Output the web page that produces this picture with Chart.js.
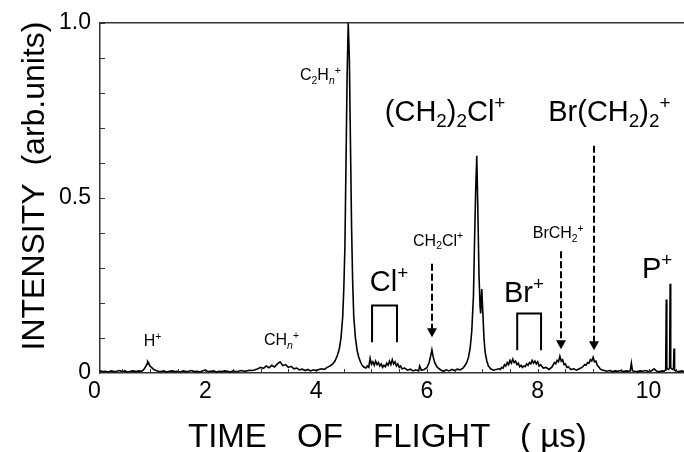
<!DOCTYPE html>
<html>
<head>
<meta charset="utf-8">
<script src="https://cdn.jsdelivr.net/npm/chart.js@4.4.1/dist/chart.umd.min.js"></script>
<style>
html, body { margin: 0; padding: 0; background: #fff; }
#tof { display: block; }
</style>
</head>
<body>
<canvas id="tof" width="684" height="452"></canvas>
<script>
// time of flight (µs) and intensity
const tofUs = [
    0.10, 0.15, 0.20, 0.25, 0.30, 0.35, 0.40, 0.45, 0.50, 0.55, 0.60, 0.65, 0.70, 0.75, 0.80, 0.85,
    0.88, 0.90, 0.93, 0.95, 0.96, 0.98, 1.00, 1.03, 1.06, 1.10, 1.15,
    1.20, 1.25, 1.30, 1.35, 1.40, 1.45, 1.50, 1.55, 1.60, 1.65,
    1.70, 1.75, 1.80, 1.85, 1.90, 1.95, 2.00, 2.05, 2.10, 2.15,
    2.20, 2.25, 2.30, 2.35, 2.40, 2.45, 2.50, 2.55, 2.60, 2.65,
    2.70, 2.75, 2.80, 2.85,
    2.90, 2.95, 3.00, 3.05, 3.10, 3.15, 3.20, 3.25, 3.30, 3.35,
    3.40, 3.45, 3.50, 3.55, 3.60, 3.65, 3.70, 3.75, 3.80, 3.85,
    3.90, 3.95, 4.00, 4.05,
    4.10, 4.15, 4.20, 4.25, 4.30, 4.34, 4.38, 4.42, 4.45, 4.48,
    4.50, 4.52, 4.54, 4.56, 4.58, 4.60, 4.62, 4.64, 4.66, 4.68,
    4.71, 4.74, 4.77, 4.80, 4.83, 4.86,
    4.900, 4.925, 4.950, 4.975, 5.000, 5.025, 5.050, 5.075, 5.100, 5.125,
    5.150, 5.175, 5.200, 5.225, 5.250, 5.275, 5.300, 5.325, 5.350, 5.375,
    5.400, 5.425, 5.450, 5.475, 5.500, 5.525, 5.550, 5.600, 5.650, 5.700,
    5.750, 5.800, 5.850, 5.870, 5.900, 5.950,
    6.00, 6.04, 6.07, 6.09, 6.11, 6.14, 6.18, 6.22, 6.26,
    6.30, 6.35, 6.40, 6.45, 6.50, 6.55, 6.60, 6.65,
    6.68, 6.72, 6.75, 6.78, 6.81, 6.84, 6.86, 6.88, 6.90, 6.92,
    6.94, 6.96, 6.97, 6.99, 7.01, 7.03, 7.05, 7.08, 7.11, 7.15,
    7.20,
    7.250, 7.300, 7.325, 7.350, 7.375, 7.400, 7.425, 7.450, 7.475, 7.500,
    7.525, 7.550, 7.575, 7.600, 7.625, 7.650, 7.675, 7.700, 7.725, 7.750,
    7.775, 7.800, 7.825, 7.850, 7.875, 7.900, 7.925, 7.950, 7.975, 8.000,
    8.025, 8.050, 8.100, 8.150, 8.200,
    8.250, 8.275, 8.300, 8.325, 8.350, 8.375, 8.400, 8.425, 8.450, 8.475,
    8.500, 8.525, 8.550, 8.600, 8.650,
    8.700, 8.750, 8.800,
    8.825, 8.850, 8.875, 8.900, 8.925, 8.950, 8.975, 9.000, 9.025, 9.050,
    9.075, 9.100, 9.125, 9.150, 9.200,
    9.25, 9.30, 9.35, 9.40, 9.45, 9.50, 9.55, 9.60, 9.65, 9.67,
    9.69, 9.71, 9.75, 9.80, 9.85, 9.90, 9.95, 10.00, 10.05, 10.10,
    10.15, 10.20, 10.25,
    10.28, 10.30, 10.31, 10.32, 10.33, 10.36, 10.38, 10.39, 10.40, 10.43,
    10.45, 10.46, 10.47, 10.50,
    10.55, 10.60, 10.64
];

const intensity = [
    .006, .004, .005, .003, .006, .004, .005, .007, .004, .006, .003, .005, .006, .004, .006, .005,
    .008, .012, .020, .026, .033, .028, .020, .016, .011, .008, .005,
    .004, .006, .003, .005, .006, .004, .005, .003, .006, .004,
    .005, .007, .004, .005, .003, .006, .009, .004, .005, .006,
    .003, .005, .004, .006, .005, .003, .006, .004, .005, .007,
    .005, .006, .008, .007,
    .009, .012, .016, .013, .020, .015, .022, .017, .026, .032,
    .021, .024, .016, .019, .012, .014, .009, .011, .007, .010,
    .006, .009, .007, .010,
    .012, .010, .016, .020, .026, .034, .048, .070, .100, .160,
    .240, .360, .600, .850, 1.00, .900, .660, .420, .260, .160,
    .100, .065, .045, .032, .022, .017,
    .014, .020, .016, .042, .025, .032, .022, .034, .024, .030,
    .020, .026, .016, .022, .018, .028, .022, .034, .024, .038,
    .026, .032, .020, .026, .016, .020, .012, .014, .008, .011,
    .006, .009, .006, .020, .008, .010,
    .015, .030, .050, .066, .048, .030, .018, .012, .008,
    .005, .009, .006, .010, .007, .011, .009, .014,
    .020, .030, .045, .070, .120, .220, .380, .520, .620, .460,
    .280, .190, .170, .240, .170, .100, .060, .035, .020, .012,
    .008,
    .010, .012, .010, .016, .014, .024, .020, .030, .024, .036,
    .028, .040, .030, .034, .024, .028, .018, .022, .016, .020,
    .018, .026, .022, .030, .026, .036, .028, .034, .026, .032,
    .020, .024, .014, .016, .010,
    .016, .022, .030, .026, .036, .032, .048, .034, .038, .024,
    .026, .016, .018, .010, .012,
    .008, .012, .016,
    .020, .024, .022, .030, .028, .038, .034, .045, .032, .034,
    .022, .018, .012, .009, .007,
    .005, .007, .004, .006, .005, .007, .004, .006, .005, .006,
    .028, .006, .005, .004, .006, .005, .007, .004, .006, .012,
    .005, .004, .006,
    .005, .008, .012, .210, .012, .010, .015, .255, .015, .010,
    .012, .070, .008, .005,
    .004, .006, .004
];

const xTicks = [0, 2, 4, 6, 8, 10];
const yTicks = [0, 0.5, 1.0];

const FONT = "'Liberation Sans', Arial, Helvetica, sans-serif";

// text with sub/superscripts: parts are [text, kind]
function drawRich(ctx, x, y, size, parts) {
    ctx.textAlign = "left";
    ctx.textBaseline = "alphabetic";
    for (const [txt, kind] of parts) {
        const small = kind !== "";
        const italic = kind === "isub";
        const fs = small ? size * 0.65 : size;
        ctx.font = (italic ? "italic " : "") + fs + "px " + FONT;
        let dy = 0;
        if (kind === "sub" || kind === "isub") dy = size * 0.22;
        if (kind === "sup") dy = -size * 0.4;
        ctx.fillText(txt, x, y + dy);
        x += ctx.measureText(txt).width;
    }
}

const decorPlugin = {
    id: "decor",
    afterDraw(chart) {
        const ctx = chart.ctx;
        const { left, right, top, bottom } = chart.chartArea;
        const xs = chart.scales.x, ys = chart.scales.y;
        const px = v => xs.getPixelForValue(v);
        const py = v => ys.getPixelForValue(v);

        ctx.save();
        ctx.strokeStyle = "#333";
        ctx.lineWidth = 1.5;
        // top frame line
        ctx.beginPath();
        ctx.moveTo(left, top);
        ctx.lineTo(right, top);
        ctx.stroke();

        // inward ticks
        ctx.lineWidth = 1;
        ctx.beginPath();
        for (let v = 0.1; v < 1.001; v += 0.1) {
            const y = Math.round(py(v)) + 0.5;
            ctx.moveTo(left, y);
            ctx.lineTo(left + 5, y);
        }
        for (let v = 0.5; v < 10.6; v += 0.5) {
            const x = Math.round(px(v)) + 0.5;
            ctx.moveTo(x, bottom);
            ctx.lineTo(x, bottom - 4);
        }
        ctx.stroke();

        ctx.fillStyle = "#000";
        // ion labels (x in µs, y in intensity units)
        const labels = [
            [0.89, 0.076, 16, [["H", ""], ["+", "sup"]]],
            [3.06, 0.079, 16, [["CH", ""], ["n", "isub"], ["+", "sup"]]],
            [3.71, 0.836, 16, [["C", ""], ["2", "sub"], ["H", ""], ["n", "isub"], ["+", "sup"]]],
            [5.24, 0.720, 29, [["(CH", ""], ["2", "sub"], [")", ""], ["2", "sub"], ["Cl", ""], ["+", "sup"]]],
            [8.19, 0.720, 29, [["Br(CH", ""], ["2", "sub"], [")", ""], ["2", "sub"], ["+", "sup"]]],
            [5.75, 0.363, 16, [["CH", ""], ["2", "sub"], ["Cl", ""], ["+", "sup"]]],
            [7.91, 0.385, 16, [["BrCH", ""], ["2", "sub"], ["+", "sup"]]],
            [4.97, 0.235, 29, [["Cl", ""], ["+", "sup"]]],
            [7.39, 0.204, 29, [["Br", ""], ["+", "sup"]]],
            [9.88, 0.272, 29, [["P", ""], ["+", "sup"]]]
        ];
        labels.forEach(([x, y, size, parts]) => drawRich(ctx, px(x), py(y), size, parts));

        // brackets under Cl+ and Br+
        ctx.strokeStyle = "#000";
        ctx.lineWidth = 2;
        [[5.01, 5.46, 0.193, 0.088], [7.63, 8.06, 0.170, 0.065]].forEach(([x1, x2, yt, yb]) => {
            ctx.beginPath();
            ctx.moveTo(px(x1), py(yb));
            ctx.lineTo(px(x1), py(yt));
            ctx.lineTo(px(x2), py(yt));
            ctx.lineTo(px(x2), py(yb));
            ctx.stroke();
        });

        // dashed arrows
        [[6.09, 0.312, 0.102], [8.42, 0.348, 0.068], [9.02, 0.649, 0.065]].forEach(([x, y1, y2]) => {
            const X = Math.round(px(x));
            const tip = py(y2);
            ctx.setLineDash([7, 3]);
            ctx.beginPath();
            ctx.moveTo(X, py(y1));
            ctx.lineTo(X, tip - 8);
            ctx.stroke();
            ctx.setLineDash([]);
            ctx.beginPath();
            ctx.moveTo(X - 5, tip - 9);
            ctx.lineTo(X + 5, tip - 9);
            ctx.lineTo(X, tip);
            ctx.closePath();
            ctx.fill();
        });

        // x axis title, words spread out as in the original
        ctx.font = "33px " + FONT;
        ctx.textBaseline = "alphabetic";
        ctx.textAlign = "left";
        [["TIME", 188], ["OF", 297], ["FLIGHT", 373], ["( \u00b5s)", 520]].forEach(([w, x]) => {
            ctx.fillText(w, x, 447);
        });

        // y axis title
        ctx.save();
        ctx.translate(44, 186);
        ctx.rotate(-Math.PI / 2);
        ctx.font = "32px " + FONT;
        ctx.textAlign = "center";
        ctx.fillText("INTENSITY  (arb.units)", 0, 0);
        ctx.restore();

        ctx.restore();
    }
};

const ctx = document.getElementById("tof").getContext("2d");
const chart = new Chart(ctx, {
    type: "line",
    data: {
        datasets: [{
            data: tofUs.map((t, i) => ({ x: t, y: intensity[i] })),
            borderColor: "#000",
            borderWidth: 1.6,
            pointRadius: 0,
            tension: 0,
            fill: false
        }]
    },
    options: {
        responsive: false,
        animation: false,
        devicePixelRatio: 1,
        layout: { padding: { top: 20, right: 0, left: 0, bottom: 0 } },
        plugins: { legend: { display: false }, tooltip: { enabled: false } },
        scales: {
            x: {
                type: "linear",
                min: 0.1,
                max: 10.64,
                afterBuildTicks: s => { s.ticks = xTicks.map(v => ({ value: v })); },
                afterFit: s => { s.height = 79; },
                grid: { display: false, drawTicks: false },
                border: { display: true, color: "#333", width: 1.5 },
                ticks: {
                    color: "#000",
                    font: { family: FONT, size: 23 },
                    padding: 5,
                    autoSkip: false,
                    maxRotation: 0,
                    callback: v => String(v)
                }
            },
            y: {
                min: 0,
                max: 1,
                afterBuildTicks: s => { s.ticks = yTicks.map(v => ({ value: v })); },
                afterFit: s => { s.width = 100; },
                grid: { display: false, drawTicks: false },
                border: { display: true, color: "#333", width: 1.5 },
                ticks: {
                    color: "#000",
                    font: { family: FONT, size: 23 },
                    padding: 9,
                    callback: v => (v === 0 ? "0" : v.toFixed(1))
                }
            }
        }
    },
    plugins: [decorPlugin]
});
</script>
</body>
</html>
